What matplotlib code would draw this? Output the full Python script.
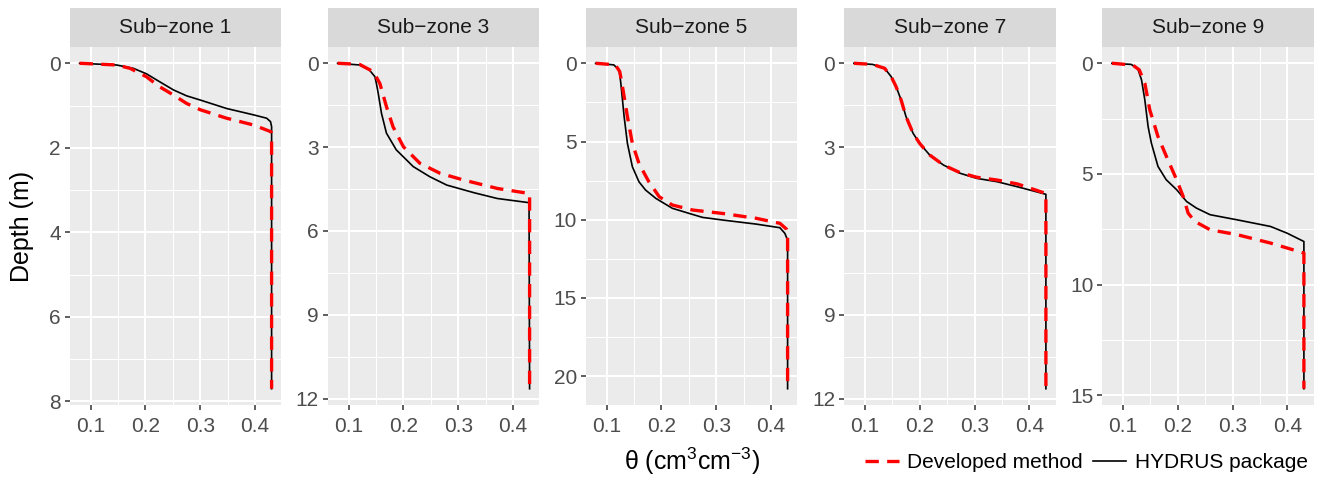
import matplotlib
matplotlib.use("Agg")
import matplotlib.pyplot as plt
from matplotlib.lines import Line2D

plt.rcParams['font.family'] = ['Liberation Sans', 'DejaVu Sans']
plt.rcParams['mathtext.fontset'] = 'custom'
plt.rcParams['mathtext.rm'] = 'Liberation Sans'
plt.rcParams['mathtext.it'] = 'Liberation Sans:italic'

# ---------------- data (theta, depth) ----------------
titles = ["Sub\u2212zone 1", "Sub\u2212zone 3", "Sub\u2212zone 5", "Sub\u2212zone 7", "Sub\u2212zone 9"]

# Sub-zone 1
hyd1_theta = [0.08, 0.147, 0.178, 0.202, 0.225, 0.251, 0.275, 0.30, 0.348, 0.397, 0.421, 0.428, 0.43, 0.43]
hyd1_depth = [0.0, 0.04, 0.12, 0.25, 0.43, 0.63, 0.77, 0.87, 1.07, 1.22, 1.30, 1.38, 1.50, 7.7]
dev1_theta = [0.08, 0.147, 0.172, 0.202, 0.225, 0.251, 0.275, 0.30, 0.348, 0.397, 0.429, 0.43, 0.43]
dev1_depth = [0.0, 0.04, 0.12, 0.32, 0.55, 0.75, 0.95, 1.10, 1.30, 1.46, 1.62, 1.9, 7.7]

# Sub-zone 3
hyd3_theta = [0.08, 0.12, 0.138, 0.148, 0.151, 0.154, 0.16, 0.169, 0.187, 0.218, 0.248, 0.279, 0.328, 0.371, 0.429, 0.43]
hyd3_depth = [0.0, 0.06, 0.24, 0.48, 0.75, 1.07, 1.79, 2.5, 3.1, 3.7, 4.06, 4.36, 4.63, 4.84, 4.99, 11.65]
dev3_theta = [0.08, 0.12, 0.145, 0.157, 0.169, 0.181, 0.20, 0.23, 0.267, 0.31, 0.371, 0.429, 0.43, 0.43]
dev3_depth = [0.0, 0.04, 0.3, 0.72, 1.55, 2.27, 2.99, 3.58, 3.94, 4.18, 4.48, 4.66, 4.78, 11.65]

# Sub-zone 5
hyd5_theta = [0.08, 0.113, 0.123, 0.126, 0.132, 0.138, 0.147, 0.159, 0.171, 0.19, 0.22, 0.251, 0.275, 0.312, 0.373, 0.416, 0.425, 0.43, 0.43]
hyd5_depth = [0.0, 0.1, 0.43, 1.28, 3.41, 5.12, 6.61, 7.57, 8.1, 8.64, 9.27, 9.6, 9.85, 10.02, 10.28, 10.51, 10.87, 11.3, 20.8]
dev5_theta = [0.08, 0.116, 0.124, 0.129, 0.138, 0.147, 0.159, 0.177, 0.196, 0.22, 0.257, 0.312, 0.373, 0.416, 0.428, 0.43, 0.43]
dev5_depth = [0.0, 0.1, 0.53, 1.49, 3.41, 5.12, 6.4, 7.57, 8.53, 9.06, 9.38, 9.6, 9.91, 10.23, 10.6, 10.8, 20.8]

# Sub-zone 7
hyd7_theta = [0.08, 0.114, 0.136, 0.148, 0.157, 0.166, 0.175, 0.188, 0.20, 0.218, 0.243, 0.274, 0.304, 0.341, 0.378, 0.43, 0.43]
hyd7_depth = [0.0, 0.04, 0.18, 0.48, 0.84, 1.31, 1.91, 2.51, 2.87, 3.28, 3.64, 3.94, 4.12, 4.24, 4.42, 4.69, 11.65]
dev7_theta = [0.08, 0.114, 0.136, 0.148, 0.157, 0.166, 0.175, 0.188, 0.20, 0.218, 0.243, 0.274, 0.304, 0.341, 0.378, 0.43, 0.43]
dev7_depth = [0.0, 0.04, 0.18, 0.48, 0.84, 1.31, 1.91, 2.51, 2.87, 3.28, 3.64, 3.92, 4.08, 4.18, 4.32, 4.66, 11.65]

# Sub-zone 9
hyd9_theta = [0.08, 0.115, 0.127, 0.134, 0.14, 0.146, 0.152, 0.164, 0.179, 0.198, 0.216, 0.234, 0.259, 0.308, 0.369, 0.399, 0.43, 0.43]
hyd9_depth = [0.0, 0.05, 0.23, 0.75, 1.65, 2.86, 3.61, 4.66, 5.26, 5.71, 6.24, 6.54, 6.84, 7.07, 7.37, 7.67, 8.05, 14.7]
dev9_theta = [0.08, 0.118, 0.13, 0.14, 0.149, 0.164, 0.182, 0.198, 0.21, 0.219, 0.231, 0.259, 0.308, 0.369, 0.43, 0.43]
dev9_depth = [0.0, 0.08, 0.3, 0.9, 2.1, 3.31, 4.36, 5.26, 6.02, 6.77, 7.14, 7.52, 7.74, 8.12, 8.57, 14.7]

hydrus = [(hyd1_theta, hyd1_depth), (hyd3_theta, hyd3_depth), (hyd5_theta, hyd5_depth),
          (hyd7_theta, hyd7_depth), (hyd9_theta, hyd9_depth)]
developed = [(dev1_theta, dev1_depth), (dev3_theta, dev3_depth), (dev5_theta, dev5_depth),
             (dev7_theta, dev7_depth), (dev9_theta, dev9_depth)]

x_ticks = [0.1, 0.2, 0.3, 0.4]
x_minor = [0.15, 0.25, 0.35]
y_ticks = [[0, 2, 4, 6, 8], [0, 3, 6, 9, 12], [0, 5, 10, 15, 20], [0, 3, 6, 9, 12], [0, 5, 10, 15]]
y_minor = [[1, 3, 5, 7], [1.5, 4.5, 7.5, 10.5], [2.5, 7.5, 12.5, 17.5], [1.5, 4.5, 7.5, 10.5], [2.5, 7.5, 12.5]]

# ---------------- layout ----------------
W, H = 1331, 483
fig = plt.figure(figsize=(W / 100, H / 100), dpi=100)

panel_left = [70, 328, 586, 844.3, 1102.3]
panel_w = 211.2
p_top, p_bot = 47, 405
s_top = 8

tick_fs = 15
title_fs = 18
grey30 = '#4D4D4D'

def expand(lo, hi, f=0.05):
    d = (hi - lo) * f
    return lo - d, hi + d

for i in range(5):
    l = panel_left[i]
    ax = fig.add_axes([l / W, 1 - p_bot / H, panel_w / W, (p_bot - p_top) / H])
    ax.set_facecolor('#EBEBEB')
    for s in ax.spines.values():
        s.set_visible(False)

    ht, hd = hydrus[i]
    dt, dd = developed[i]
    allx = ht + dt
    ally = hd + dd
    ax.set_xlim(*expand(min(allx), max(allx)))
    y0, y1 = expand(min(ally), max(ally))
    ax.set_ylim(y1, y0)

    ax.set_xticks(x_ticks)
    ax.set_xticklabels([f"{v:.1f}" for v in x_ticks])
    ax.set_xticks(x_minor, minor=True)
    ax.set_yticks(y_ticks[i])
    ax.set_yticklabels([str(v) for v in y_ticks[i]])
    ax.set_yticks(y_minor[i], minor=True)

    ax.grid(which='major', color='white', linewidth=1.5)
    ax.grid(which='minor', color='white', linewidth=0.75)
    ax.set_axisbelow(True)
    ax.tick_params(which='major', length=3.5, width=1.1, color='#333333',
                   labelsize=tick_fs, labelcolor=grey30)
    ax.tick_params(axis='x', which='major', pad=5)
    ax.tick_params(axis='y', which='major', pad=3)
    ax.tick_params(which='minor', length=0)

    ax.plot(ht, hd, color='black', linewidth=1.2, solid_joinstyle='round', zorder=3)
    ax.plot(dt, dd, color='#FF0000', linewidth=2.4, linestyle=(0, (4, 2.5)), zorder=4)

    sax = fig.add_axes([l / W, 1 - p_top / H, panel_w / W, (p_top - s_top) / H])
    sax.set_facecolor('#D9D9D9')
    sax.set_xticks([])
    sax.set_yticks([])
    for s in sax.spines.values():
        s.set_visible(False)
    sax.text(0.5, 0.5, titles[i], ha='center', va='center', fontsize=tick_fs,
             color='#1A1A1A', transform=sax.transAxes)

fig.text(22 / W, 1 - 226 / H, 'Depth (m)', rotation=90, ha='center', va='center',
         fontsize=title_fs, color='black')
fig.text(692 / W, 1 - 461 / H, '\u03b8 (cm$^{3}$cm$^{-3}$)', ha='center', va='center',
         fontsize=title_fs, color='black')

handles = [Line2D([0], [0], color='#FF0000', linewidth=2.4, linestyle=(0, (4, 2.5))),
           Line2D([0], [0], color='black', linewidth=1.2)]
fig.legend(handles, ['Developed method', 'HYDRUS package'], ncol=2, frameon=False,
           loc='center right', bbox_to_anchor=(1316 / W, 1 - 463 / H),
           fontsize=tick_fs, handlelength=1.6, handletextpad=0.4, columnspacing=0.5,
           borderaxespad=0)

fig.savefig('out.png', dpi=100)
